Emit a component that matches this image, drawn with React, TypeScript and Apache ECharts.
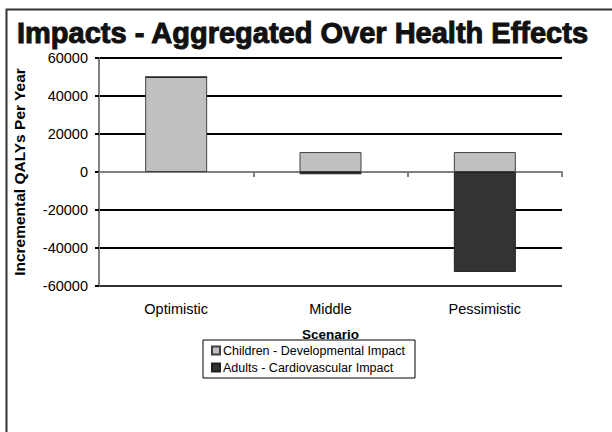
import React, { useEffect, useRef } from "react";
import * as echarts from "echarts";

const categories = ["Optimistic", "Middle", "Pessimistic"];
const childrenValues = [50000, 10500, 10500];
const adultsValues = [0, -1200, -52600];
const seriesNames = ["Children - Developmental Impact", "Adults - Cardiovascular Impact"];
const titleText = "Impacts - Aggregated Over Health Effects";
const yAxisName = "Incremental QALYs Per Year";
const xAxisName = "Scenario";

const FONT = "'Liberation Sans', Arial, sans-serif";

export default function App() {
  const ref = useRef<HTMLDivElement>(null);
  useEffect(() => {
    if (!ref.current) return;
    const chart = echarts.init(ref.current, null, { renderer: "svg" });
    chart.setOption({
      animation: false,
      backgroundColor: "#fff",
      textStyle: { fontFamily: FONT },
      title: {
        text: titleText,
        left: 17,
        top: 18,
        padding: 0,
        textStyle: {
          fontSize: 29,
          fontWeight: "bold",
          color: "#111",
          fontFamily: FONT,
          textBorderColor: "#111",
          textBorderWidth: 1,
        },
      },
      graphic: [
        {
          type: "rect",
          shape: { x: 6.5, y: 9.5, width: 700, height: 500 },
          style: { fill: "none", stroke: "#333", lineWidth: 2 },
          silent: true,
        },
      ],
      legend: {
        orient: "vertical",
        left: 203,
        top: 340,
        borderColor: "#000",
        borderWidth: 1,
        borderRadius: 0,
        padding: [4, 10, 4, 8],
        itemWidth: 8,
        itemHeight: 8,
        itemGap: 4,
        icon: "rect",
        textStyle: { fontSize: 12.5, color: "#000", fontFamily: FONT, padding: [0, 0, 0, -2] },
        data: seriesNames,
      },
      grid: { left: 99, right: 50, top: 58, bottom: 146, containLabel: false },
      xAxis: [
        {
          type: "category",
          data: categories,
          position: "bottom",
          axisLine: { show: false, onZero: false },
          axisTick: { show: false },
          axisLabel: { fontSize: 14.5, color: "#000", margin: 15, fontFamily: FONT },
          name: xAxisName,
          nameLocation: "middle",
          nameGap: 41,
          nameTextStyle: { fontSize: 13.5, fontWeight: "bold", color: "#000", fontFamily: FONT },
          splitLine: { show: false },
        },
        {
          type: "category",
          data: categories,
          position: "top",
          axisLine: { show: true, onZero: true, lineStyle: { color: "#808080", width: 2 } },
          axisTick: { show: true, inside: true, length: 5, lineStyle: { color: "#808080", width: 2 } },
          axisLabel: { show: false },
          splitLine: { show: false },
        },
      ],
      yAxis: {
        type: "value",
        min: -60000,
        max: 60000,
        interval: 20000,
        axisLine: { show: true, lineStyle: { color: "#808080", width: 2 } },
        axisTick: { show: true, length: 4, lineStyle: { color: "#000", width: 2 } },
        axisLabel: {
          fontSize: 14.5,
          color: "#000",
          margin: 11,
          fontFamily: FONT,
          formatter: (v: number) => String(v),
        },
        splitLine: {
          show: true,
          lineStyle: {
            color: ["#333", "#000", "#000", "rgba(0,0,0,0)", "#000", "#000", "#000"],
            width: 2,
          },
        },
        name: yAxisName,
        nameLocation: "middle",
        nameGap: 72,
        nameTextStyle: { fontSize: 15.5, fontWeight: "bold", color: "#000", fontFamily: FONT },
      },
      series: [
        {
          name: seriesNames[0],
          type: "bar",
          stack: "total",
          xAxisIndex: 0,
          barWidth: 62,
          data: childrenValues,
          itemStyle: { color: "#c0c0c0", borderColor: "#404040", borderWidth: 1 },
        },
        {
          name: seriesNames[1],
          type: "bar",
          stack: "total",
          xAxisIndex: 0,
          barWidth: 62,
          data: adultsValues,
          itemStyle: { color: "#333333", borderColor: "#222", borderWidth: 1 },
        },
      ],
    });
    return () => chart.dispose();
  }, []);
  return (
    <div
      ref={ref}
      style={{ position: "fixed", left: 0, top: 0, width: 612, height: 432 }}
    />
  );
}
